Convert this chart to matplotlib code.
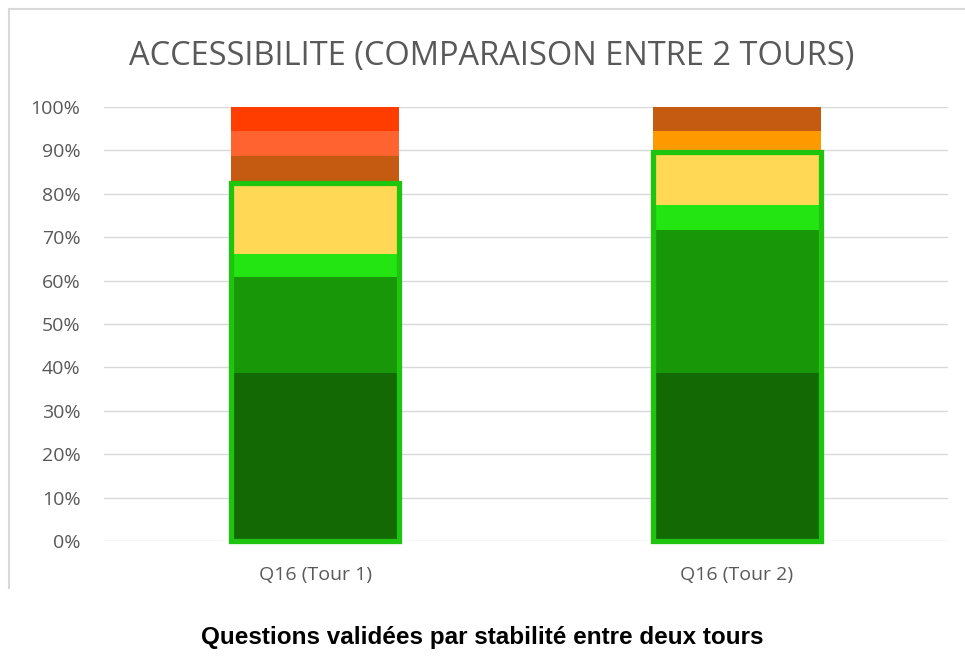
import numpy as np
import matplotlib.pyplot as plt
from matplotlib.lines import Line2D

# ── Data ──────────────────────────────────────────────────────
categories = ["Q16 (Tour 1)", "Q16 (Tour 2)"]

# segments from bottom to top, shares in %
seg_tour1 = [38.7, 22.1, 5.3, 16.5, 6.1, 5.8, 5.5]
seg_tour2 = [38.7, 33.0, 5.7, 12.2, 4.9, 5.5]
col_tour1 = ['#136a05', '#189808', '#22e512', '#ffd955', '#c55a11', '#ff6330', '#ff3d00']
col_tour2 = ['#136a05', '#189808', '#22e512', '#ffd955', '#ff9900', '#c55a11']

# number of bottom segments counted as "validated" (outlined)
n_valid = 4

yticks = np.arange(0, 101, 10)
ytick_labels = [f"{v}%" for v in yticks]

TITLE   = "ACCESSIBILITE (COMPARAISON ENTRE 2 TOURS)"
CAPTION = "Questions validées par stabilité entre deux tours"

GREY    = '#595959'
OUTLINE = '#1fc40f'

# ── Figure ────────────────────────────────────────────────────
fig = plt.figure(figsize=(9.65, 6.57), dpi=100)
ax = fig.add_axes([0.1078, 0.1766, 0.8746, 0.6605])

x = np.arange(len(categories))
width = 0.4

for xi, segs, cols in [(x[0], seg_tour1, col_tour1), (x[1], seg_tour2, col_tour2)]:
    bottom = 0.0
    for v, c in zip(segs, cols):
        ax.bar(xi, v, width=width, bottom=bottom, color=c,
               edgecolor='none', zorder=2)
        bottom += v
    # green frame round the validated part
    ax.bar(xi, sum(segs[:n_valid]), width=width, bottom=0, fill=False,
           edgecolor=OUTLINE, linewidth=3.8, zorder=3, clip_on=False)

ax.set_xlim(-0.5, 1.5)
ax.set_ylim(0, 100)
ax.set_yticks(yticks)
ax.set_yticklabels(ytick_labels)
ax.set_xticks(x)
ax.set_xticklabels(categories)
ax.yaxis.grid(True, color='#d9d9d9', linewidth=1.0, zorder=0)
ax.set_axisbelow(True)
for s in ax.spines.values():
    s.set_visible(False)
ax.tick_params(length=0, colors=GREY, labelsize=14)
ax.tick_params(axis='y', pad=17)
ax.tick_params(axis='x', pad=18)
for lab in ax.get_xticklabels() + ax.get_yticklabels():
    lab.set_fontfamily('Open Sans')

# chart frame (left and top edges only visible in crop)
fig.add_artist(Line2D([0.0093, 0.0093], [0.105, 0.986], color='#d9d9d9',
                      linewidth=1.5, transform=fig.transFigure))
fig.add_artist(Line2D([0.0093, 1.0], [0.986, 0.986], color='#d9d9d9',
                      linewidth=1.5, transform=fig.transFigure))

fig.text(0.51, 0.914, TITLE, ha='center', va='center', fontsize=23.5,
         color=GREY, family='Open Sans')
fig.text(0.5, 0.030, CAPTION, ha='center', va='center', fontsize=17.5,
         fontweight='bold', color='black', family='Liberation Sans')

plt.savefig("out.png", dpi=100)
plt.close()
